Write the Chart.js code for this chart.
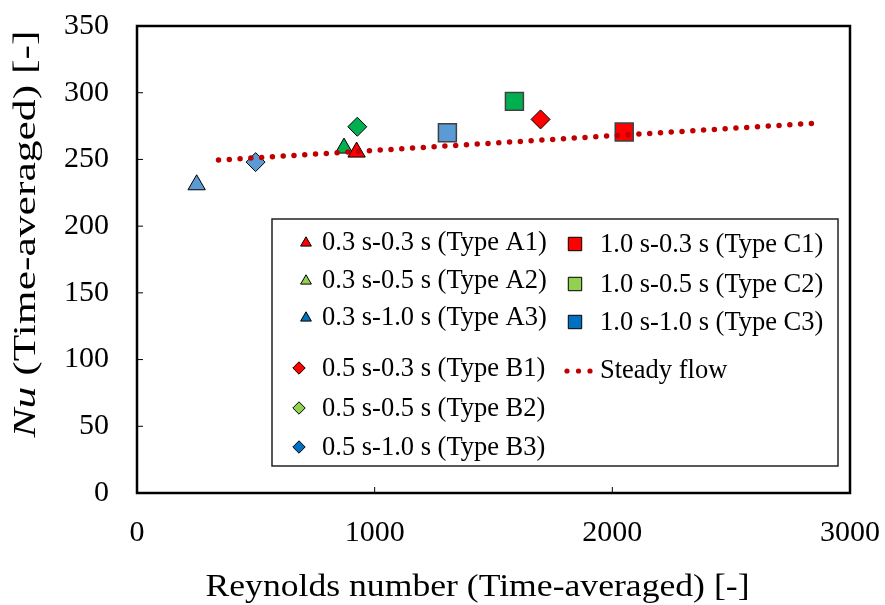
<!DOCTYPE html>
<html>
<head>
<meta charset="utf-8">
<script src="https://cdn.jsdelivr.net/npm/chart.js@4.4.1/dist/chart.umd.min.js"></script>
<style>
  body { margin: 0; background: #fff; }
  #chart { display: block; }
</style>
</head>
<body>
<canvas id="chart" width="885" height="605"></canvas>
<script>
// values
var seriesNames = ['0.3 s-0.3 s (Type A1)', '0.3 s-0.5 s (Type A2)', '0.3 s-1.0 s (Type A3)',
                   '0.5 s-0.3 s (Type B1)', '0.5 s-0.5 s (Type B2)', '0.5 s-1.0 s (Type B3)',
                   '1.0 s-0.3 s (Type C1)', '1.0 s-0.5 s (Type C2)', '1.0 s-1.0 s (Type C3)'];
var reynolds = [924, 871, 251, 1698, 927, 499, 2050, 1588, 1306];
var nusselt  = [255.5, 258.5, 231, 280, 274.5, 248, 270.5, 293.5, 270];
var steadyLabel = 'Steady flow';
var steadyRe = [343, 2840];
var steadyNu = [249.5, 277];
var xTicks = [0, 1000, 2000, 3000];
var yTicks = [0, 50, 100, 150, 200, 250, 300, 350];
var xTitle = 'Reynolds number (Time-averaged) [-]';
var yTitleItalic = 'Nu';
var yTitleRest = ' (Time-averaged) [-]';

// styling
var shapes = ['triangle', 'triangle', 'triangle', 'rectRot', 'rectRot', 'rectRot', 'rect', 'rect', 'rect'];
var radius = { triangle: 10, rectRot: 9.5, rect: 12.7 };
var plotColors = ['#FF0000', '#00B050', '#5B9BD5'];
var legendColors = ['#FF0000', '#92D050', '#0070C0'];
var serif = '"Liberation Serif", "Times New Roman", serif';

var datasets = [{
  label: steadyLabel,
  data: steadyRe.map(function(x, i) { return { x: x, y: steadyNu[i] }; }),
  showLine: true,
  borderColor: '#C00000',
  borderWidth: 5.5,
  borderDash: [0, 10.8],
  borderCapStyle: 'round',
  pointRadius: 0,
  order: 0
}];
for (var i = 0; i < seriesNames.length; i++) {
  datasets.push({
    label: seriesNames[i],
    data: [{ x: reynolds[i], y: nusselt[i] }],
    pointStyle: shapes[i],
    pointRadius: radius[shapes[i]],
    pointHoverRadius: radius[shapes[i]],
    backgroundColor: plotColors[i % 3],
    borderColor: shapes[i] == 'rect' ? '#404040' : '#000',
    borderWidth: shapes[i] == 'rect' ? 1.5 : 1,
    legendColor: legendColors[i % 3],
    order: 1
  });
}

// draw text squeezed/stretched to a given length
function fitText(ctx, parts, cx, cy, len, rot) {
  ctx.save();
  ctx.translate(cx, cy);
  if (rot) ctx.rotate(rot);
  var total = 0;
  parts.forEach(function(p) { ctx.font = p.font; total += ctx.measureText(p.text).width; });
  ctx.scale(len / total, 1);
  ctx.fillStyle = '#000';
  ctx.textBaseline = 'middle';
  var x = -total / 2;
  parts.forEach(function(p) {
    ctx.font = p.font;
    ctx.fillText(p.text, x, 0);
    x += ctx.measureText(p.text).width;
  });
  ctx.restore();
}

// frame, inside ticks, axis titles and the boxed legend
var decor = {
  id: 'decor',
  afterDraw: function(chart) {
    var ctx = chart.ctx, a = chart.chartArea;
    var xs = chart.scales.x, ys = chart.scales.y;
    ctx.save();
    ctx.strokeStyle = '#000';
    ctx.lineWidth = 1;
    xTicks.forEach(function(t) {
      var px = xs.getPixelForValue(t);
      ctx.beginPath(); ctx.moveTo(px, a.bottom); ctx.lineTo(px, a.bottom - 6); ctx.stroke();
    });
    yTicks.forEach(function(t) {
      var py = ys.getPixelForValue(t);
      ctx.beginPath(); ctx.moveTo(a.left, py); ctx.lineTo(a.left + 6, py); ctx.stroke();
    });
    ctx.lineWidth = 2.5;
    ctx.strokeRect(a.left, a.top, a.right - a.left, a.bottom - a.top);

    fitText(ctx, [{ text: xTitle, font: '31px ' + serif }], (a.left + a.right) / 2 - 16, 588, 544, 0);
    fitText(ctx, [{ text: yTitleItalic, font: 'italic 31px ' + serif },
                  { text: yTitleRest, font: '31px ' + serif }], 27, 234, 407, -Math.PI / 2);

    // legend box
    var bx = a.left + 135, by = a.top + 193, bw = 566, bh = 247;
    ctx.fillStyle = '#fff';
    ctx.fillRect(bx, by, bw, bh);
    ctx.lineWidth = 1.5;
    ctx.strokeStyle = '#222';
    ctx.strokeRect(bx, by, bw, bh);
    var rowsLeft = [24, 62, 99, 150, 190, 229];
    var rowsRight = [26, 66, 104];
    ctx.font = '26.5px ' + serif;
    ctx.textBaseline = 'middle';
    chart.data.datasets.forEach(function(ds, k) {
      if (k == 0) return;
      var j = k - 1, mx, tx, y;
      if (j < 6) { mx = bx + 34; tx = bx + 50; y = by + rowsLeft[j]; }
      else { mx = bx + 303; tx = bx + 328; y = by + rowsRight[j - 6]; }
      if (ds.pointStyle == 'rectRot') mx -= 7;
      ctx.fillStyle = ds.legendColor;
      ctx.strokeStyle = '#000';
      ctx.lineWidth = 1;
      var r = ds.pointStyle == 'rect' ? 9.5 : 6.2;
      var dy = ds.pointStyle == 'triangle' ? 0 : -1;
      Chart.helpers.drawPoint(ctx, { pointStyle: ds.pointStyle, radius: r, borderWidth: 1 }, mx, y + dy);
      ctx.fillStyle = '#000';
      ctx.fillText(ds.label, tx, y);
    });
    // steady flow entry
    var sy = by + 152;
    ctx.fillStyle = '#C00000';
    [0, 11.5, 23].forEach(function(d) {
      ctx.beginPath(); ctx.arc(bx + 295 + d, sy, 2.6, 0, Math.PI * 2); ctx.fill();
    });
    ctx.fillStyle = '#000';
    ctx.fillText(chart.data.datasets[0].label, bx + 328, sy);
    ctx.restore();
  }
};

var chart = new Chart(document.getElementById('chart').getContext('2d'), {
  type: 'scatter',
  data: { datasets: datasets },
  options: {
    responsive: false,
    animation: false,
    devicePixelRatio: 1,
    layout: { padding: { top: 26, right: 35, left: 0, bottom: 0 } },
    plugins: { legend: { display: false }, tooltip: { enabled: false } },
    scales: {
      x: {
        min: 0, max: 3000,
        afterBuildTicks: function(s) { s.ticks = xTicks.map(function(v) { return { value: v }; }); },
        afterFit: function(s) { s.height = 112; s.paddingLeft = 0; s.paddingRight = 0; },
        grid: { display: false, drawTicks: false },
        border: { display: false },
        ticks: { color: '#000', padding: 22, maxRotation: 0, font: { family: serif, size: 30 },
                 callback: function(v) { return String(v); } }
      },
      y: {
        min: 0, max: 350,
        afterBuildTicks: function(s) { s.ticks = yTicks.map(function(v) { return { value: v }; }); },
        afterFit: function(s) { s.width = 137; s.paddingTop = 0; s.paddingBottom = 0; },
        grid: { display: false, drawTicks: false },
        border: { display: false },
        ticks: { color: '#000', padding: 28, font: { family: serif, size: 30 },
                 callback: function(v) { return String(v); } }
      }
    }
  },
  plugins: [decor]
});
</script>
</body>
</html>
